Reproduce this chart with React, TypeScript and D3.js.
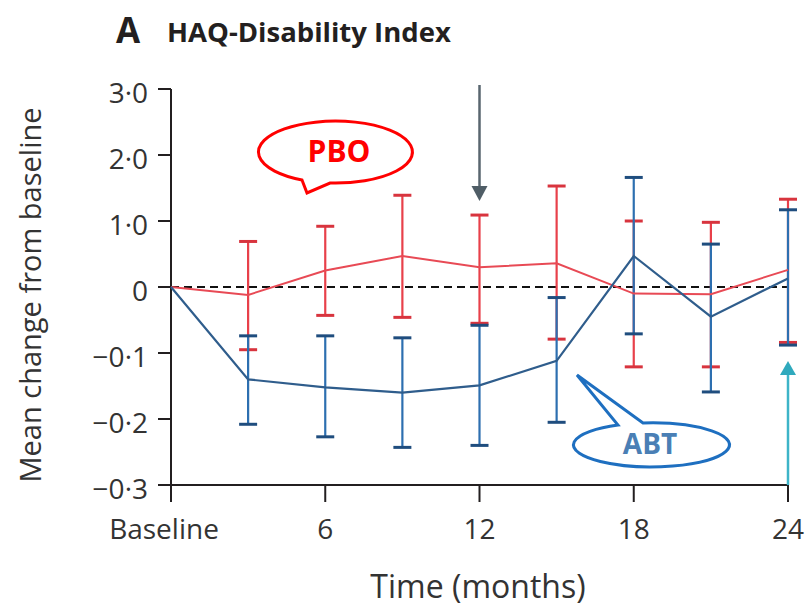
import React from "react";
import * as d3 from "d3";

const months = [0, 3, 6, 9, 12, 15, 18, 21, 24];
const pboMean = [0, -0.012, 0.025, 0.047, 0.03, 0.036, -0.01, -0.011, 0.026];
const pboUpper = [null, 0.069, 0.092, 0.139, 0.109, 0.153, 0.1, 0.098, 0.133];
const pboLower = [null, -0.095, -0.043, -0.046, -0.055, -0.079, -0.121, -0.121, -0.084];
const abtMean = [0, -0.14, -0.152, -0.16, -0.149, -0.112, 0.047, -0.045, 0.013];
const abtUpper = [null, -0.074, -0.074, -0.077, -0.058, -0.016, 0.166, 0.065, 0.117];
const abtLower = [null, -0.208, -0.227, -0.243, -0.24, -0.205, -0.071, -0.159, -0.088];

const xTickValues = [0, 6, 12, 18, 24];
const xTickLabels = ["Baseline", "6", "12", "18", "24"];
const yTickValues = [-0.3, -0.2, -0.1, 0, 0.1, 0.2, 0.3];
const yTickLabels = ["\u22120\u00b73", "\u22120\u00b72", "\u22120\u00b71", "0", "1\u00b70", "2\u00b70", "3\u00b70"];

const FONT = "'Open Sans', 'Noto Sans', sans-serif";

export default function App() {
  const x = d3.scaleLinear().domain([0, 24]).range([171, 788]);
  const y = d3.scaleLinear().domain([-0.3, 0.3]).range([485, 89]);
  const line = d3
    .line<number>()
    .x((_, i) => x(months[i]))
    .y((d) => y(d));

  const cap = 9;
  const errBars = (
    upper: (number | null)[],
    lower: (number | null)[],
    stroke: string,
    capStroke: string
  ) =>
    months.map((m, i) => {
      const u = upper[i];
      const l = lower[i];
      if (u == null || l == null) return null;
      const cx = x(m);
      return (
        <g key={i}>
          <line x1={cx} x2={cx} y1={y(u)} y2={y(l)} stroke={stroke} strokeWidth={2.2} />
          <line x1={cx - cap} x2={cx + cap} y1={y(u)} y2={y(u)} stroke={capStroke} strokeWidth={3} />
          <line x1={cx - cap} x2={cx + cap} y1={y(l)} y2={y(l)} stroke={capStroke} strokeWidth={3} />
        </g>
      );
    });

  return (
    <svg
      width={812}
      height={612}
      style={{ position: "absolute", left: 0, top: 0, background: "#fff" }}
      fontFamily={FONT}
    >
      {/* Title */}
      <text x={116} y={43} fontSize={35} fontWeight={700} fill="#231f20">A</text>
      <text x={167} y={42} fontSize={27.5} fontWeight={700} fill="#231f20">HAQ-Disability Index</text>

      {/* Y axis */}
      <line x1={171} x2={171} y1={y(0.3)} y2={502} stroke="#231f20" strokeWidth={2} />
      {yTickValues.map((v, i) => (
        <g key={i}>
          <line x1={158} x2={171} y1={y(v)} y2={y(v)} stroke="#231f20" strokeWidth={2} />
          <text x={148} y={y(v)} dy="0.5em" textAnchor="end" fontSize={28} fill="#333">
            {yTickLabels[i]}
          </text>
        </g>
      ))}
      <text
        transform={`translate(41, 295) rotate(-90)`}
        textAnchor="middle"
        fontSize={29}
        fill="#333"
      >
        Mean change from baseline
      </text>

      {/* X axis */}
      <line x1={171} x2={x(24)} y1={y(-0.3)} y2={y(-0.3)} stroke="#231f20" strokeWidth={2} />
      {xTickValues.map((v, i) => (
        <g key={i}>
          <line x1={x(v)} x2={x(v)} y1={y(-0.3)} y2={502} stroke="#231f20" strokeWidth={2} />
          <text x={i === 0 ? x(v) - 7 : x(v)} y={539} textAnchor="middle" fontSize={28} fill="#333">
            {xTickLabels[i]}
          </text>
        </g>
      ))}
      <text x={478} y={598} textAnchor="middle" fontSize={32} fill="#333">Time (months)</text>

      {/* zero reference */}
      <line x1={171} x2={x(24)} y1={y(0)} y2={y(0)} stroke="#111" strokeWidth={2} strokeDasharray="8,5" />

      {/* error bars */}
      {errBars(pboUpper, pboLower, "#e8404a", "#d8343e")}
      {errBars(abtUpper, abtLower, "#2d6fb0", "#1f4d7e")}

      {/* lines */}
      <path d={line(pboMean) || ""} fill="none" stroke="#e84a55" strokeWidth={2} />
      <path d={line(abtMean) || ""} fill="none" stroke="#2f5d8c" strokeWidth={2.2} />

      {/* grey arrow at 12 months */}
      <line x1={x(12)} x2={x(12)} y1={85} y2={188} stroke="#59666f" strokeWidth={2.5} />
      <path d={`M${x(12) - 8},186 L${x(12) + 8},186 L${x(12)},201 Z`} fill="#4f5d66" />

      {/* teal arrow at 24 months */}
      <line x1={x(24)} x2={x(24)} y1={485} y2={372} stroke="#3db4c8" strokeWidth={2.5} />
      <path d={`M${x(24) - 8},375 L${x(24) + 8},375 L${x(24)},361 Z`} fill="#2fa9bd" />

      {/* PBO bubble */}
      <path
        d="M302,180 A77,31 0 1,1 330,183 L307,193 Z"
        fill="#fff"
        stroke="#ff0000"
        strokeWidth={3}
        strokeLinejoin="miter"
      />
      <text x={339} y={162} textAnchor="middle" fontSize={30} fontWeight={700} fill="#ff0000">PBO</text>

      {/* ABT bubble */}
      <path
        d="M618,425 A78,22 0 1,0 643,423 L577,375 Z"
        fill="#fff"
        stroke="#1e6fc0"
        strokeWidth={3}
      />
      <text x={650} y={454} textAnchor="middle" fontSize={28} fontWeight={700} fill="#4a7fb5">ABT</text>
    </svg>
  );
}
